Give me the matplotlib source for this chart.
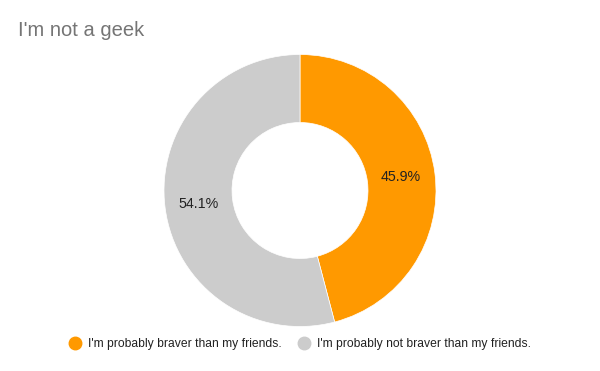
import matplotlib.pyplot as plt
from matplotlib.lines import Line2D

plt.rcParams['font.family'] = ['Liberation Sans', 'DejaVu Sans']

labels = ["I'm probably braver than my friends.", "I'm probably not braver than my friends."]
values = [45.9, 54.1]
colors = ["#ff9900", "#cccccc"]

fig = plt.figure(figsize=(6, 3.71), dpi=100)
W, H = 600, 371
cx, cy, r = 300, 371 - 190.5, 136
ax = fig.add_axes([(cx - r) / W, (cy - r) / H, 2 * r / W, 2 * r / H])

wedges, _, autotexts = ax.pie(values, colors=colors, startangle=90, counterclock=False,
                              radius=1, autopct='%.1f%%', pctdistance=0.75,
                              wedgeprops=dict(width=0.5, edgecolor='white', linewidth=0.5),
                              textprops=dict(fontsize=10.3, color='#222222'))
ax.set_xlim(-1, 1)
ax.set_ylim(-1, 1)
ax.axis('off')

fig.text(18 / W, 1 - 31 / H, "I'm not a geek", fontsize=14.5, color='#757575', va='center', ha='left')

handles = [Line2D([], [], marker='o', linestyle='', markersize=9, color=c) for c in colors]
fig.legend(handles, labels, loc='center', bbox_to_anchor=(0.5, 1 - 344 / H), ncol=2,
           frameon=False, fontsize=8.7, handletextpad=0.6, columnspacing=1.3,
           handlelength=1, labelcolor='#222222')

fig.savefig('out.png', dpi=100)
